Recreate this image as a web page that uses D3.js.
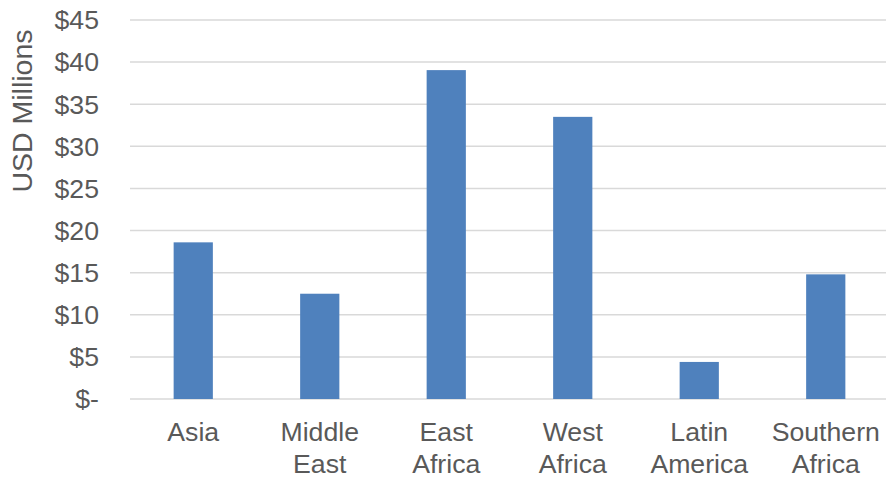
<!DOCTYPE html>
<html lang="en">
<head>
<meta charset="utf-8">
<title>USD Millions by region</title>
<script src="https://d3js.org/d3.v7.min.js"></script>
<style>
  body { margin: 0; background: #fff; }
  text { font-family: "Liberation Sans", Arial, sans-serif; fill: #595959; }
</style>
</head>
<body>
<div id="chart"></div>
<script>
  // data
  var regions = [["Asia"], ["Middle", "East"], ["East", "Africa"], ["West", "Africa"], ["Latin", "America"], ["Southern", "Africa"]];
  var values = [18.6, 12.5, 39.05, 33.5, 4.4, 14.8];
  var ticks = [0, 5, 10, 15, 20, 25, 30, 35, 40, 45];

  var w = 886, h = 479;
  // plot area (note: "top" is taken by window.top)
  var plotLeft = 130, plotRight = 889, plotTop = 20, plotBottom = 399;

  var svg = d3.select("#chart").append("svg")
    .attr("width", w)
    .attr("height", h);

  var keys = regions.map(function(d) { return d.join(" "); });

  var x = d3.scaleBand()
    .domain(keys)
    .range([plotLeft, plotRight])
    .paddingInner(0.69)
    .paddingOuter(0.345);

  var y = d3.scaleLinear()
    .domain([0, 45])
    .range([plotBottom, plotTop]);

  // gridlines
  svg.append("g")
    .selectAll("line")
    .data(ticks)
    .enter().append("line")
    .attr("x1", plotLeft)
    .attr("x2", w)
    .attr("y1", function(d) { return y(d); })
    .attr("y2", function(d) { return y(d); })
    .attr("stroke", "#d9d9d9")
    .attr("stroke-width", 1.5);

  // y tick labels
  svg.append("g")
    .selectAll("text")
    .data(ticks)
    .enter().append("text")
    .attr("x", 99)
    .attr("y", function(d) { return y(d); })
    .attr("dy", "0.35em")
    .attr("text-anchor", "end")
    .style("font-size", "26.67px")
    .text(function(d) { return d === 0 ? "$-" : "$" + d; });

  // bars
  svg.append("g")
    .selectAll("rect")
    .data(values)
    .enter().append("rect")
    .attr("x", function(d, i) { return x(keys[i]); })
    .attr("width", x.bandwidth())
    .attr("y", function(d) { return y(d); })
    .attr("height", function(d) { return y(0) - y(d); })
    .attr("fill", "#4f81bd");

  // category labels
  var cat = svg.append("g")
    .selectAll("text")
    .data(regions)
    .enter().append("text")
    .attr("text-anchor", "middle")
    .style("font-size", "26.67px")
    .attr("transform", function(d, i) {
      return "translate(" + (x(keys[i]) + x.bandwidth() / 2) + ",441)";
    });

  cat.selectAll("tspan")
    .data(function(d) { return d; })
    .enter().append("tspan")
    .attr("x", 0)
    .attr("y", function(d, i) { return i * 32; })
    .text(function(d) { return d; });

  // axis title
  svg.append("text")
    .attr("transform", "translate(32,111) rotate(-90)")
    .attr("text-anchor", "middle")
    .style("font-size", "28.5px")
    .text("USD Millions");
</script>
</body>
</html>
